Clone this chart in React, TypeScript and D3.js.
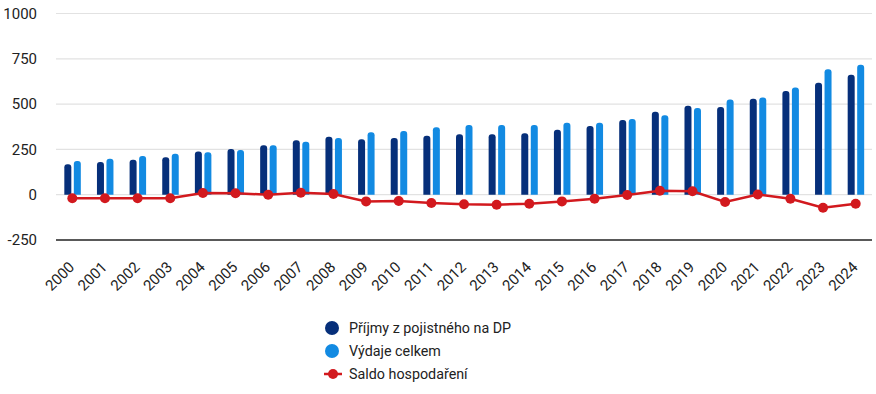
import React from 'react'
import * as d3 from 'd3'

const years = ['2000', '2001', '2002', '2003', '2004', '2005', '2006', '2007', '2008', '2009', '2010', '2011', '2012',
    '2013', '2014', '2015', '2016', '2017', '2018', '2019', '2020', '2021', '2022', '2023', '2024']
const prijmy = [168, 180, 193, 206, 239, 252, 273, 300, 320, 306, 313, 326, 333, 333, 339, 359, 379, 412, 458, 491, 484, 530, 572, 618, 662]
const vydaje = [186, 199, 214, 226, 234, 247, 273, 292, 313, 344, 352, 372, 385, 385, 385, 397, 397, 418, 438, 478, 526, 537, 591, 692, 717]
const saldo = [-20, -20, -20, -20, 9, 8, 0, 11, 4, -37, -35, -46, -53, -55, -50, -37, -22, -2, 22, 19, -40, 1, -22, -72, -50]
const yTicks = [-250, 0, 250, 500, 750, 1000]

const seriesNames = ['Příjmy z pojistného na DP', 'Výdaje celkem', 'Saldo hospodaření']
const DARK = '#062f7a'
const LIGHT = '#128ae2'
const RED = '#d2191e'

const width = 876
const height = 394
const font = 'Roboto, "Noto Sans", sans-serif'

// bar with rounded top corners
function barPath(x: number, y: number, w: number, h: number, r: number) {
    const rr = Math.min(r, w / 2, h)
    return `M${x},${y + h}V${y + rr}Q${x},${y} ${x + rr},${y}H${x + w - rr}Q${x + w},${y} ${x + w},${y + rr}V${y + h}Z`
}

function App() {
    const xScale = d3.scaleBand().domain(years).range([56, 872])
    const yScale = d3.scaleLinear().domain([-250, 1000]).range([240, 13.5])
    const line = d3
        .line<number>()
        .x((_, i) => xScale(years[i])! + xScale.bandwidth() / 2)
        .y(d => yScale(d))

    const barW = 7
    const zero = yScale(0)

    return (
        <svg width={width} height={height} style={{ position: 'absolute', left: 0, top: 0, fontFamily: font }}>
            {yTicks.map(t => (
                <g key={t}>
                    <line
                        x1={56}
                        x2={872}
                        y1={yScale(t)}
                        y2={yScale(t)}
                        stroke={t === -250 ? '#222' : '#e2e2e2'}
                        strokeWidth={t === -250 ? 1.5 : 1.2}
                    />
                    <text x={37} y={yScale(t)} dy="0.35em" textAnchor="end" fontSize={15} fill="#222">
                        {t}
                    </text>
                </g>
            ))}
            {years.map((yr, i) => {
                const cx = xScale(yr)! + xScale.bandwidth() / 2
                const hd = zero - yScale(prijmy[i])
                const hl = zero - yScale(vydaje[i])
                return (
                    <g key={yr}>
                        <path d={barPath(cx - 8, yScale(prijmy[i]), barW, hd, 3)} fill={DARK} />
                        <path d={barPath(cx + 1.5, yScale(vydaje[i]), barW, hl, 3)} fill={LIGHT} />
                        <text
                            transform={`translate(${cx + 3},${268}) rotate(-45)`}
                            textAnchor="end"
                            fontSize={15}
                            fill="#222"
                        >
                            {yr}
                        </text>
                    </g>
                )
            })}
            <path d={line(saldo)!} fill="none" stroke={RED} strokeWidth={2.5} />
            {saldo.map((v, i) => (
                <circle key={i} cx={xScale(years[i])! + xScale.bandwidth() / 2} cy={yScale(v)} r={5} fill={RED} />
            ))}
            <g fontSize={14.3} fill="#222">
                <circle cx={332} cy={328} r={7} fill={DARK} />
                <text x={349} y={328} dy="0.35em">{seriesNames[0]}</text>
                <circle cx={332} cy={351} r={7} fill={LIGHT} />
                <text x={349} y={351} dy="0.35em">{seriesNames[1]}</text>
                <line x1={324} x2={342} y1={374} y2={374} stroke={RED} strokeWidth={2.5} />
                <circle cx={333} cy={374} r={5} fill={RED} />
                <text x={349} y={374} dy="0.35em">{seriesNames[2]}</text>
            </g>
        </svg>
    )
}

export default App
